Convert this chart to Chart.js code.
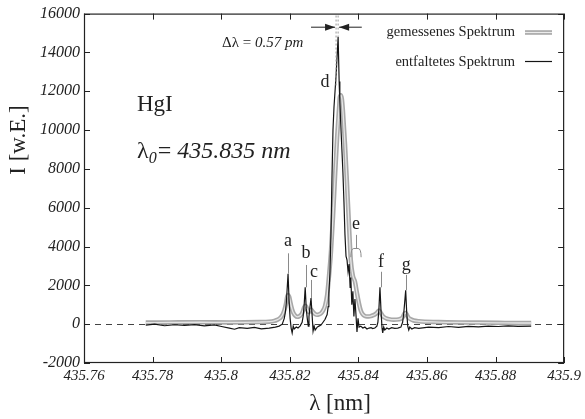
<!DOCTYPE html>
<html><head><meta charset="utf-8">
<script src="https://cdn.jsdelivr.net/npm/chart.js@4.4.1/dist/chart.umd.min.js"></script>
<style>html,body{margin:0;padding:0;background:#fff}canvas{display:block}</style>
</head><body>
<canvas id="c" width="585" height="419"></canvas>
<script>
// ---- data ----
const measuredLambda = [
 435.7780,435.7850,435.7937,435.8024,435.8111,435.8140,435.8155,435.8163,435.8169,435.8175,
 435.8181,435.8187,435.8190,435.8192,435.8195,435.8198,435.8201,435.8204,435.8207,435.8210,
 435.8216,435.8222,435.8227,435.8233,435.8236,435.8239,435.8242,435.8245,435.8248,435.8251,
 435.8254,435.8256,435.8259,435.8262,435.8265,435.8268,435.8274,435.8280,435.8285,435.8291,
 435.8297,435.8303,435.8309,435.8314,435.8320,435.8326,435.8332,435.8338,435.8344,435.8346,
 435.8349,435.8352,435.8355,435.8361,435.8367,435.8373,435.8378,435.8384,435.8390,435.8396,
 435.8402,435.8407,435.8413,435.8419,435.8425,435.8431,435.8437,435.8442,435.8448,435.8454,
 435.8457,435.8460,435.8463,435.8466,435.8469,435.8471,435.8477,435.8483,435.8489,435.8503,
 435.8518,435.8526,435.8529,435.8532,435.8535,435.8538,435.8541,435.8544,435.8547,435.8553,
 435.8561,435.8576,435.8634,435.8692,435.8750,435.8808,435.8866,435.8904];
const measuredIntensity = [
 80,90,100,90,110,130,170,220,280,380,
 560,900,1150,1380,1500,1420,1200,950,750,600,
 440,380,400,480,560,700,860,950,900,760,
 640,620,700,750,700,620,520,480,500,560,
 700,950,1500,2400,3700,5500,7600,9600,11200,11700,
 11800,11600,11000,9300,7200,5000,3300,2500,2200,1600,
 1050,700,500,420,400,400,420,450,500,580,
 650,700,650,560,480,420,340,290,260,230,
 250,300,360,460,560,580,500,400,320,250,
 190,150,110,90,80,70,60,60];

const deconvLambda = [
 435.7780,435.7806,435.7835,435.7864,435.7893,435.7922,435.7951,435.7980,435.8001,435.8024,
 435.8039,435.8053,435.8076,435.8097,435.8117,435.8140,435.8158,435.8169,435.8178,435.8184,
 435.8187,435.8190,435.8192,435.8195,435.8198,435.8201,435.8204,435.8207,435.8210,435.8213,
 435.8219,435.8224,435.8230,435.8236,435.8239,435.8242,435.8245,435.8248,435.8251,435.8254,
 435.8256,435.8259,435.8262,435.8265,435.8268,435.8271,435.8274,435.8280,435.8285,435.8291,
 435.8297,435.8303,435.8309,435.8312,435.8314,435.8317,435.8320,435.8323,435.8326,435.8329,
 435.8332,435.8335,435.8338,435.8341,435.8344,435.8346,435.8349,435.8352,435.8355,435.8358,
 435.8361,435.8364,435.8367,435.8370,435.8373,435.8376,435.8378,435.8381,435.8384,435.8387,
 435.8390,435.8393,435.8396,435.8399,435.8402,435.8407,435.8413,435.8419,435.8425,435.8431,
 435.8437,435.8442,435.8448,435.8454,435.8457,435.8460,435.8463,435.8466,435.8469,435.8471,
 435.8474,435.8477,435.8483,435.8489,435.8497,435.8506,435.8515,435.8524,435.8529,435.8532,
 435.8535,435.8538,435.8541,435.8544,435.8547,435.8550,435.8556,435.8564,435.8576,435.8605,
 435.8634,435.8663,435.8692,435.8721,435.8750,435.8779,435.8808,435.8837,435.8866,435.8904];
const deconvIntensity = [
 -50,0,-80,-30,-60,-20,-90,-40,-120,-200,
 -260,-180,-220,-170,-240,-200,-150,-100,0,300,
 600,1100,1700,2600,1200,300,-200,-450,-100,-250,
 -150,-200,-100,100,400,1000,1900,800,300,-100,
 400,900,1350,500,-350,-100,-300,-150,-100,-50,
 100,250,500,900,1600,2600,4500,7500,10000,11200,
 12000,12800,13800,14800,12500,11400,10200,9000,7800,6300,
 4600,3500,3300,2700,3100,1900,2400,1000,1700,400,
 1300,500,-400,300,-150,-100,-200,-150,-250,-200,
 -180,-230,-200,-100,100,800,1900,700,-200,-450,
 -150,-300,-200,-250,-180,-220,-200,-150,100,500,
 1100,1750,600,-100,-300,-150,-250,-180,-220,-150,
 -180,-120,-160,-110,-140,-100,-120,-90,-110,-100];

const xTicks = [435.76,435.78,435.80,435.82,435.84,435.86,435.88,435.90];
const xTickLabels = ['435.76','435.78','435.8','435.82','435.84','435.86','435.88','435.9'];
const yTicks = [-2000,0,2000,4000,6000,8000,10000,12000,14000,16000];

// peak labels
const peakNames   = ['a','b','c','d','e','f','g'];
const peakLambda  = [435.8195,435.8247,435.8262,435.8303,435.8393,435.8466,435.8540];
const peakLineX   = [435.8195,435.8247,435.8262,null,435.8393,435.8466,435.8540];
const peakLabelY  = [4250,3650,2680,12450,5150,3190,3040];
const peakLineTop = [3650,3050,2280,null,4600,2700,2540];
const peakLineBot = [2600,1900,1350,null,3900,1900,1750];
const peakLabelDx = [0,0,3,0,0,0,0];

const deltaLeft = 435.8335, deltaRight = 435.8341, arrowY = 15300;

// ---- chart ----
const SERIF = '"Liberation Serif","DejaVu Serif",serif';
const pts = (xs, ys) => xs.map((x, i) => ({x, y: ys[i]}));

const framePlugin = {
  id: 'frame',
  beforeDatasetsDraw(chart) {
    const {ctx, chartArea: a, scales: {y}} = chart;
    ctx.save();
    ctx.strokeStyle = '#444'; ctx.lineWidth = 1; ctx.setLineDash([6, 5]);
    const y0 = Math.round(y.getPixelForValue(0)) + 0.5;
    ctx.beginPath(); ctx.moveTo(a.left, y0); ctx.lineTo(a.right, y0); ctx.stroke();
    ctx.restore();
  },
  afterDraw(chart) {
    const {ctx, chartArea: a, scales: {x, y}} = chart;
    ctx.save();
    // frame
    ctx.strokeStyle = '#222'; ctx.lineWidth = 1.2;
    ctx.strokeRect(a.left + 0.5, a.top + 0.5, a.right - a.left - 1, a.bottom - a.top - 1);
    // ticks
    ctx.lineWidth = 1;
    ctx.beginPath();
    yTicks.forEach(v => {
      const py = Math.round(y.getPixelForValue(v)) + 0.5;
      ctx.moveTo(a.left, py); ctx.lineTo(a.left + 6, py);
      ctx.moveTo(a.right, py); ctx.lineTo(a.right - 6, py);
    });
    xTicks.forEach(v => {
      const px = Math.round(x.getPixelForValue(v)) + 0.5;
      ctx.moveTo(px, a.bottom); ctx.lineTo(px, a.bottom - 6);
      ctx.moveTo(px, a.top); ctx.lineTo(px, a.top + 6);
    });
    ctx.stroke();

    // peak labels
    ctx.fillStyle = '#222';
    ctx.font = '18px ' + SERIF;
    ctx.textAlign = 'center'; ctx.textBaseline = 'middle';
    peakNames.forEach((n, i) => {
      ctx.fillText(n, x.getPixelForValue(peakLambda[i]) + peakLabelDx[i], y.getPixelForValue(peakLabelY[i]));
    });
    ctx.strokeStyle = '#8a8a8a'; ctx.lineWidth = 1;
    ctx.beginPath();
    peakNames.forEach((n, i) => {
      if (peakLineX[i] == null) return;
      const px = Math.round(x.getPixelForValue(peakLineX[i])) + 0.5;
      ctx.moveTo(px, y.getPixelForValue(peakLineTop[i]));
      ctx.lineTo(px, y.getPixelForValue(peakLineBot[i]));
    });
    ctx.stroke();
    // brace for e
    const bx1 = x.getPixelForValue(435.8378), bx2 = x.getPixelForValue(435.8408);
    const by = y.getPixelForValue(3900), by2 = y.getPixelForValue(3450);
    ctx.beginPath();
    ctx.moveTo(bx1, by2); ctx.quadraticCurveTo(bx1, by, bx1 + 3, by);
    ctx.lineTo(bx2 - 3, by); ctx.quadraticCurveTo(bx2, by, bx2, by2);
    ctx.stroke();

    // delta lambda markers
    const dl = x.getPixelForValue(deltaLeft), dr = x.getPixelForValue(deltaRight);
    const ay = y.getPixelForValue(arrowY);
    ctx.setLineDash([2, 2]); ctx.strokeStyle = '#999';
    ctx.beginPath();
    ctx.moveTo(dl, y.getPixelForValue(15900)); ctx.lineTo(dl, y.getPixelForValue(12200));
    ctx.moveTo(dr, y.getPixelForValue(15900)); ctx.lineTo(dr, y.getPixelForValue(14800));
    ctx.stroke();
    ctx.setLineDash([]);
    ctx.strokeStyle = '#222'; ctx.fillStyle = '#222';
    ctx.beginPath();
    ctx.moveTo(x.getPixelForValue(435.8262), ay); ctx.lineTo(dl - 1, ay);
    ctx.moveTo(dr + 1, ay); ctx.lineTo(x.getPixelForValue(435.8410), ay);
    ctx.stroke();
    ctx.beginPath();
    ctx.moveTo(dl - 1, ay); ctx.lineTo(dl - 11, ay - 3.5); ctx.lineTo(dl - 11, ay + 3.5); ctx.closePath();
    ctx.moveTo(dr + 1, ay); ctx.lineTo(dr + 11, ay - 3.5); ctx.lineTo(dr + 11, ay + 3.5); ctx.closePath();
    ctx.fill();

    ctx.textAlign = 'left'; ctx.textBaseline = 'alphabetic';
    ctx.font = '15px ' + SERIF;
    const t1 = 'Δλ = ';
    ctx.fillText(t1, 222, 47);
    const w1 = ctx.measureText(t1).width;
    ctx.font = 'italic 15px ' + SERIF;
    ctx.fillText('0.57 pm', 222 + w1, 47);

    // legend
    ctx.font = '14.5px ' + SERIF;
    ctx.textAlign = 'right'; ctx.textBaseline = 'middle';
    ctx.fillText('gemessenes Spektrum', 515, 32);
    ctx.fillText('entfaltetes Spektrum', 515, 62);
    ctx.lineWidth = 4.5; ctx.strokeStyle = '#a5a5a5';
    ctx.beginPath(); ctx.moveTo(525, 32.5); ctx.lineTo(552, 32.5); ctx.stroke();
    ctx.lineWidth = 1.3; ctx.strokeStyle = '#ececec';
    ctx.beginPath(); ctx.moveTo(525, 32.5); ctx.lineTo(552, 32.5); ctx.stroke();
    ctx.lineWidth = 1.2; ctx.strokeStyle = '#151515';
    ctx.beginPath(); ctx.moveTo(525, 61.5); ctx.lineTo(552, 61.5); ctx.stroke();

    // HgI and lambda0
    ctx.fillStyle = '#222';
    ctx.textAlign = 'left'; ctx.textBaseline = 'alphabetic';
    ctx.font = '23px ' + SERIF;
    ctx.fillText('HgI', 137, 111);
    ctx.font = '24px ' + SERIF;
    ctx.fillText('λ', 137, 158);
    let cx = 137 + ctx.measureText('λ').width;
    ctx.font = 'italic 16px ' + SERIF;
    ctx.fillText('0', cx, 163);
    cx += ctx.measureText('0').width + 1;
    ctx.font = '24px ' + SERIF;
    ctx.fillText('= ', cx, 158);
    cx += ctx.measureText('= ').width;
    ctx.font = 'italic 24px ' + SERIF;
    ctx.fillText('435.835 nm', cx, 158);

    // axis titles
    ctx.font = '23px ' + SERIF;
    ctx.textAlign = 'center'; ctx.textBaseline = 'middle';
    ctx.fillText('λ [nm]', 340, 404);
    ctx.translate(19, 140); ctx.rotate(-Math.PI / 2);
    ctx.fillText('I [w.E.]', 0, 0);
    ctx.restore();
  }
};

new Chart(document.getElementById('c').getContext('2d'), {
  type: 'line',
  data: {
    datasets: [
      {label: 'entfaltetes Spektrum', data: pts(deconvLambda, deconvIntensity),
       borderColor: '#151515', borderWidth: 1.2, pointRadius: 0, tension: 0, order: 1},
      {label: 'gemessenes Spektrum (inner)', data: pts(measuredLambda, measuredIntensity),
       borderColor: '#e6e6e6', borderWidth: 1.3, pointRadius: 0, cubicInterpolationMode: 'monotone', order: 2},
      {label: 'gemessenes Spektrum', data: pts(measuredLambda, measuredIntensity),
       borderColor: '#a8a8a8', borderWidth: 4.5, pointRadius: 0, cubicInterpolationMode: 'monotone', order: 3}
    ]
  },
  options: {
    responsive: false, animation: false, events: [],
    layout: {padding: {top: 11, right: 19, left: 0, bottom: 0}},
    plugins: {legend: {display: false}, tooltip: {enabled: false}},
    scales: {
      x: {
        type: 'linear', min: 435.76, max: 435.9,
        afterBuildTicks: s => { s.ticks = xTicks.map(v => ({value: v})); },
        afterFit: s => { s.height = 56; },
        grid: {display: false, drawTicks: false}, border: {display: false},
        ticks: {padding: 4, maxRotation: 0, autoSkip: false, color: '#222',
          font: {family: SERIF, style: 'italic', size: 15},
          callback: (v, i) => xTickLabels[i]}
      },
      y: {
        min: -2000, max: 16000,
        afterBuildTicks: s => { s.ticks = yTicks.map(v => ({value: v})); },
        afterFit: s => { s.width = 84; },
        grid: {display: false, drawTicks: false}, border: {display: false},
        ticks: {padding: 4, autoSkip: false, color: '#222',
          font: {family: SERIF, style: 'italic', size: 16},
          callback: v => String(v)}
      }
    }
  },
  plugins: [framePlugin]
});
</script>
</body></html>
